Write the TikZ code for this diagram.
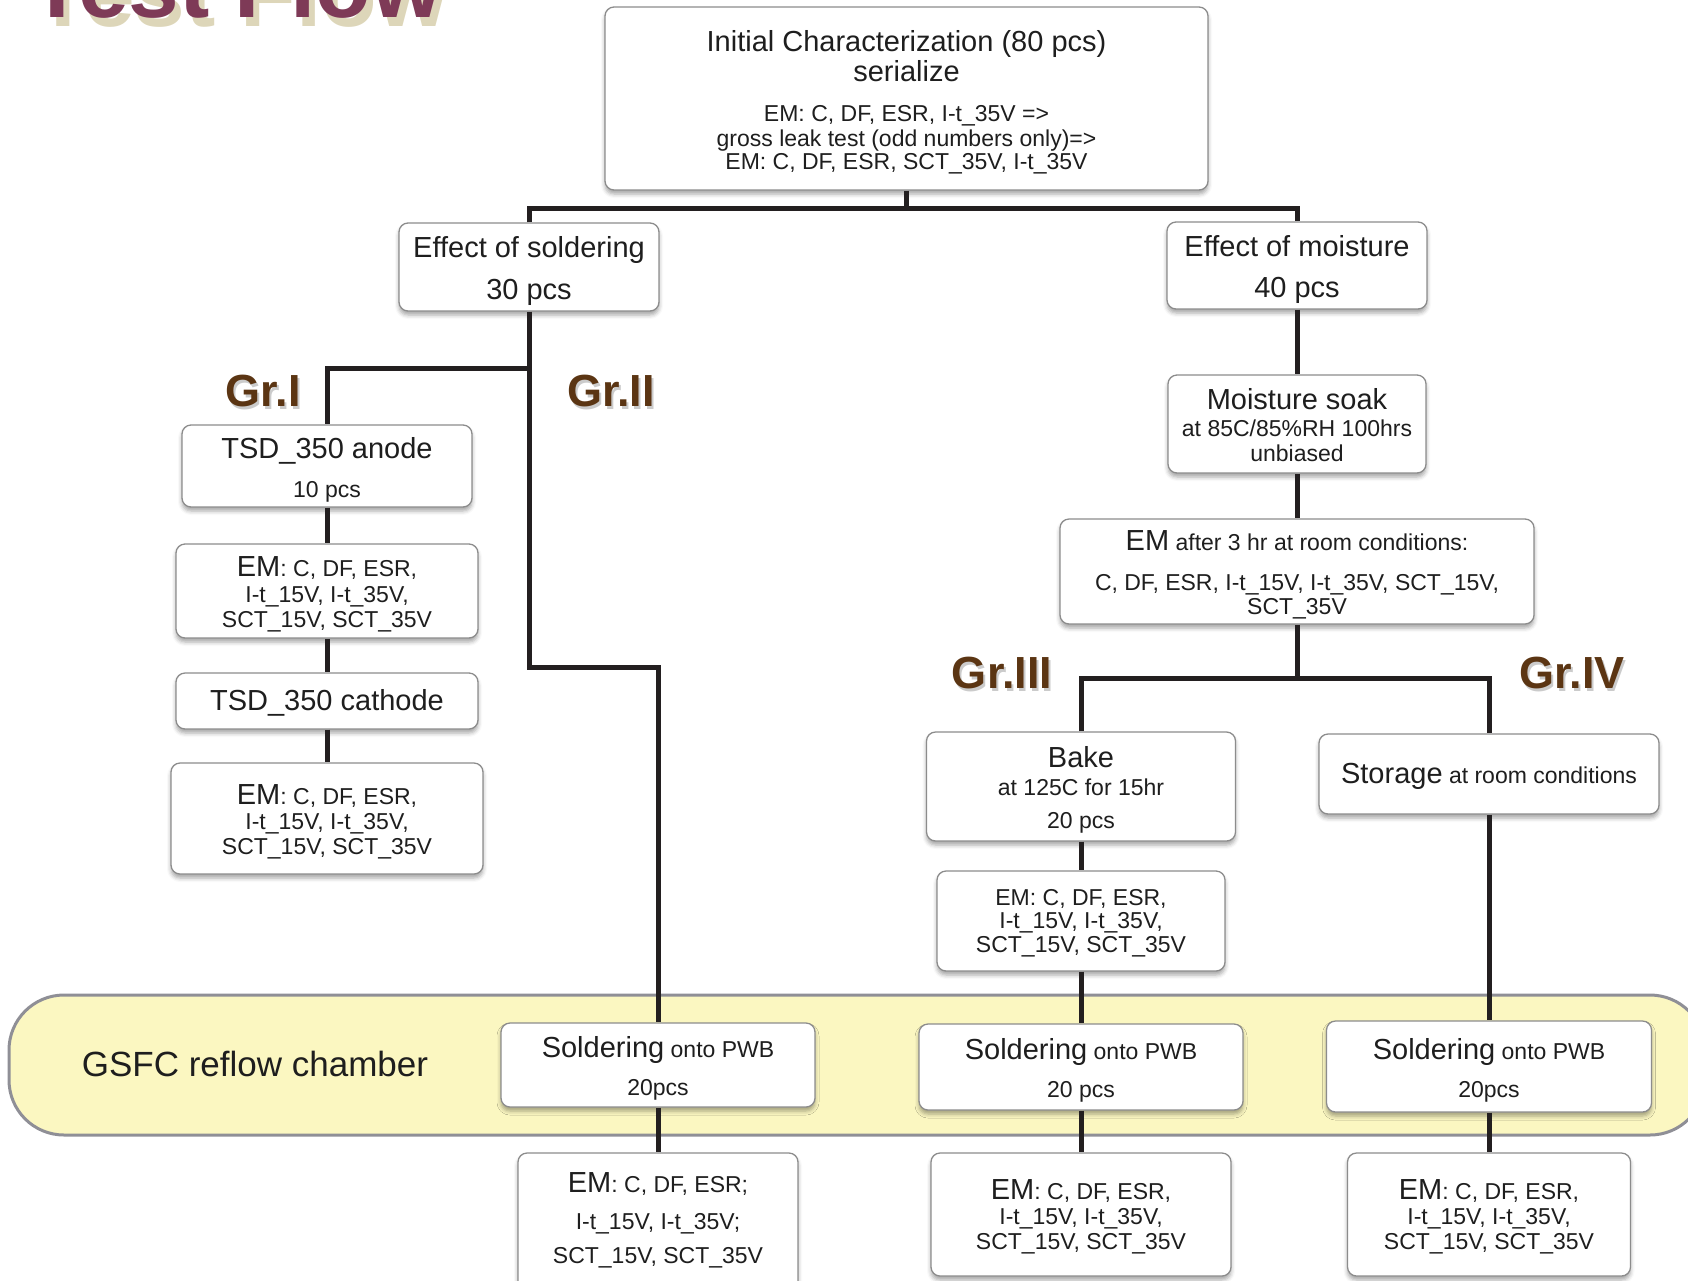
\documentclass[tikz,border=0pt]{standalone}
\usepackage{fontspec}
\setmainfont{Liberation Sans}
\usetikzlibrary{shadows.blur}
\definecolor{boxline}{HTML}{8C8C8C}
\definecolor{wirec}{HTML}{231F20}
\definecolor{bandfill}{HTML}{FBF7C1}
\definecolor{bandline}{HTML}{8F8F96}
\definecolor{grc}{HTML}{5B3513}
\definecolor{titlec}{HTML}{7E3A57}
\definecolor{titlesh}{HTML}{DDD6B9}
\definecolor{txt}{HTML}{1E1E1E}
\newcommand\Lg{\fontsize{29}{25}\selectfont}
\newcommand\Sm{\fontsize{23}{25}\selectfont}
\tikzset{
  box/.style={draw=boxline, line width=1.3pt, fill=white, rounded corners=9pt, inner sep=0pt,
    blur shadow={shadow xshift=0pt, shadow yshift=-4pt, shadow blur radius=4pt, shadow opacity=35}},
  lbl/.style={align=center, inner sep=0pt, text=txt, font=\Sm,
    execute at begin node={\lineskiplimit=-100pt}},
  wire/.style={line width=5pt, draw=wirec},
  grlab/.style={font=\fontsize{45}{45}\selectfont\bfseries, text=grc, inner sep=0pt},
  grsh/.style={font=\fontsize{45}{45}\selectfont\bfseries, text=black!45, opacity=0.45, inner sep=0pt},
}
% \boxnode[text yshift]{name}{x,y}{width}{height}{text}
\newcommand\boxnode[6][-3.5]{%
  \node[box, minimum width=#4pt, minimum height=#5pt,
        label={[lbl, yshift=#1pt]center:{#6}}] (#2) at (#3) {};}
\begin{document}
\begin{tikzpicture}[x=1pt,y=-1pt]
\useasboundingbox (0,0) rectangle (1688,1280);
% reflow band
\draw[fill=bandfill, draw=bandline, line width=3pt, rounded corners=55pt] (9,995) rectangle (1705,1135);
\node[font=\fontsize{35}{35}\selectfont, text=txt] (gsfc) at (255,1064) {GSFC reflow chamber};
% title
\node[anchor=base west, inner sep=0pt, font=\fontsize{91}{91}\selectfont\bfseries, text=titlesh] (titlesh) at (35,26) {Test Flow};
\node[anchor=base west, inner sep=0pt, font=\fontsize{91}{91}\selectfont\bfseries, text=titlec] (title) at (29,17) {Test Flow};
% group labels
\node[grsh] (g1s) at (265,394) {Gr.I};
\node[grlab] (g1) at (263,391) {Gr.I};
\node[grsh] (g2s) at (613,394) {Gr.II};
\node[grlab] (g2) at (611,391) {Gr.II};
\node[grsh] (g3s) at (1004,676) {Gr.III};
\node[grlab] (g3) at (1002,673) {Gr.III};
\node[grsh] (g4s) at (1574,676) {Gr.IV};
\node[grlab] (g4) at (1572,673) {Gr.IV};
% boxes
\boxnode{init}{906.5,98.5}{603}{183}
 {\Lg Initial Characterization (80 pcs)\\[5pt]\Lg serialize\\[15pt]\Sm EM: C, DF, ESR, I-t\_35V =>\\\Sm gross leak test (odd numbers only)=>\\[-2pt]\Sm EM: C, DF, ESR, SCT\_35V, I-t\_35V}
\boxnode{solder}{529,267}{260}{88}
 {\Lg Effect of soldering\\[17pt]\Lg 30 pcs}
\boxnode{moist}{1297,265.5}{260}{87}
 {\Lg Effect of moisture\\[16pt]\Lg 40 pcs}
\boxnode{anode}{327,466}{290}{82}
 {\Lg TSD\_350 anode\\[14pt]\Sm 10 pcs}
\boxnode{em1}{327,591}{302}{94}
 {\Sm{\Lg EM}: C, DF, ESR,\\[1pt]\Sm I-t\_15V, I-t\_35V,\\\Sm SCT\_15V, SCT\_35V}
\boxnode[-2.2]{cath}{327,701}{302}{56}
 {\Lg TSD\_350 cathode}
\boxnode{em2}{327,818.5}{312}{111}
 {\Sm{\Lg EM}: C, DF, ESR,\\\Sm I-t\_15V, I-t\_35V,\\\Sm SCT\_15V, SCT\_35V}
\boxnode[-1]{soak}{1297,424}{258}{98}
 {\Lg Moisture soak\\[2pt]\Sm at 85C/85\%RH 100hrs\\\Sm unbiased}
\boxnode{em3h}{1297,571.5}{474}{105}
 {\Sm{\Lg EM} after 3 hr at room conditions:\\[15pt]\Sm C, DF, ESR, I-t\_15V, I-t\_35V, SCT\_15V,\\[-1pt]\Sm SCT\_35V}
\boxnode{bake}{1081,786.5}{309}{109}
 {\Lg Bake\\[3pt]\Sm at 125C for 15hr\\[8pt]\Sm 20 pcs}
\boxnode[-2.2]{stor}{1489,774}{340}{80}
 {{\Lg Storage} \Sm at room conditions}
\boxnode[-2.2]{em4}{1081,921}{288}{100}
 {\Sm EM: C, DF, ESR,\\[-2pt]\Sm I-t\_15V, I-t\_35V,\\[-1pt]\Sm SCT\_15V, SCT\_35V}
\boxnode{sol1}{658,1065}{314}{84}
 {\Sm{\Lg Soldering} onto PWB\\[13pt]\Sm 20pcs}
\boxnode{sol2}{1081,1067}{324}{86}
 {\Sm{\Lg Soldering} onto PWB\\[13pt]\Sm 20 pcs}
\boxnode{sol3}{1489,1066.5}{325}{91}
 {\Sm{\Lg Soldering} onto PWB\\[13pt]\Sm 20pcs}
\boxnode[2.7]{emb1}{658,1223}{280}{140}
 {\Sm{\Lg EM}: C, DF, ESR;\\[12pt]\Sm I-t\_15V, I-t\_35V;\\[9pt]\Sm SCT\_15V, SCT\_35V}
\boxnode[-2.2]{emb2}{1081,1214.5}{300}{123}
 {\Sm{\Lg EM}: C, DF, ESR,\\\Sm I-t\_15V, I-t\_35V,\\\Sm SCT\_15V, SCT\_35V}
\boxnode[-2.2]{emb3}{1489,1214.5}{283}{123}
 {\Sm{\Lg EM}: C, DF, ESR,\\\Sm I-t\_15V, I-t\_35V,\\\Sm SCT\_15V, SCT\_35V}
% junction points
\coordinate (jtop) at (906.5,208);
\coordinate (jgr1) at (529,368);
\coordinate (jgr2) at (529,667);
\coordinate (jmid) at (1297,678);
% connectors
\draw[wire] (init.south) -- (jtop);
\draw[wire] (solder.north) |- (jtop) -| (moist.north);
\draw[wire] (solder.south) -- (jgr2) -| (sol1.north);
\draw[wire] (jgr1) -| (anode.north);
\draw[wire] (anode.south) -- (em1.north);
\draw[wire] (em1.south) -- (cath.north);
\draw[wire] (cath.south) -- (em2.north);
\draw[wire] (moist.south) -- (soak.north);
\draw[wire] (soak.south) -- (em3h.north);
\draw[wire] (em3h.south) -- (jmid);
\draw[wire] (bake.north) |- (jmid) -| (stor.north);
\draw[wire] (bake.south) -- (em4.north);
\draw[wire] (em4.south) -- (sol2.north);
\draw[wire] (stor.south) -- (sol3.north);
\draw[wire] (sol1.south) -- (emb1.north);
\draw[wire] (sol2.south) -- (emb2.north);
\draw[wire] (sol3.south) -- (emb3.north);
\end{tikzpicture}
\end{document}
